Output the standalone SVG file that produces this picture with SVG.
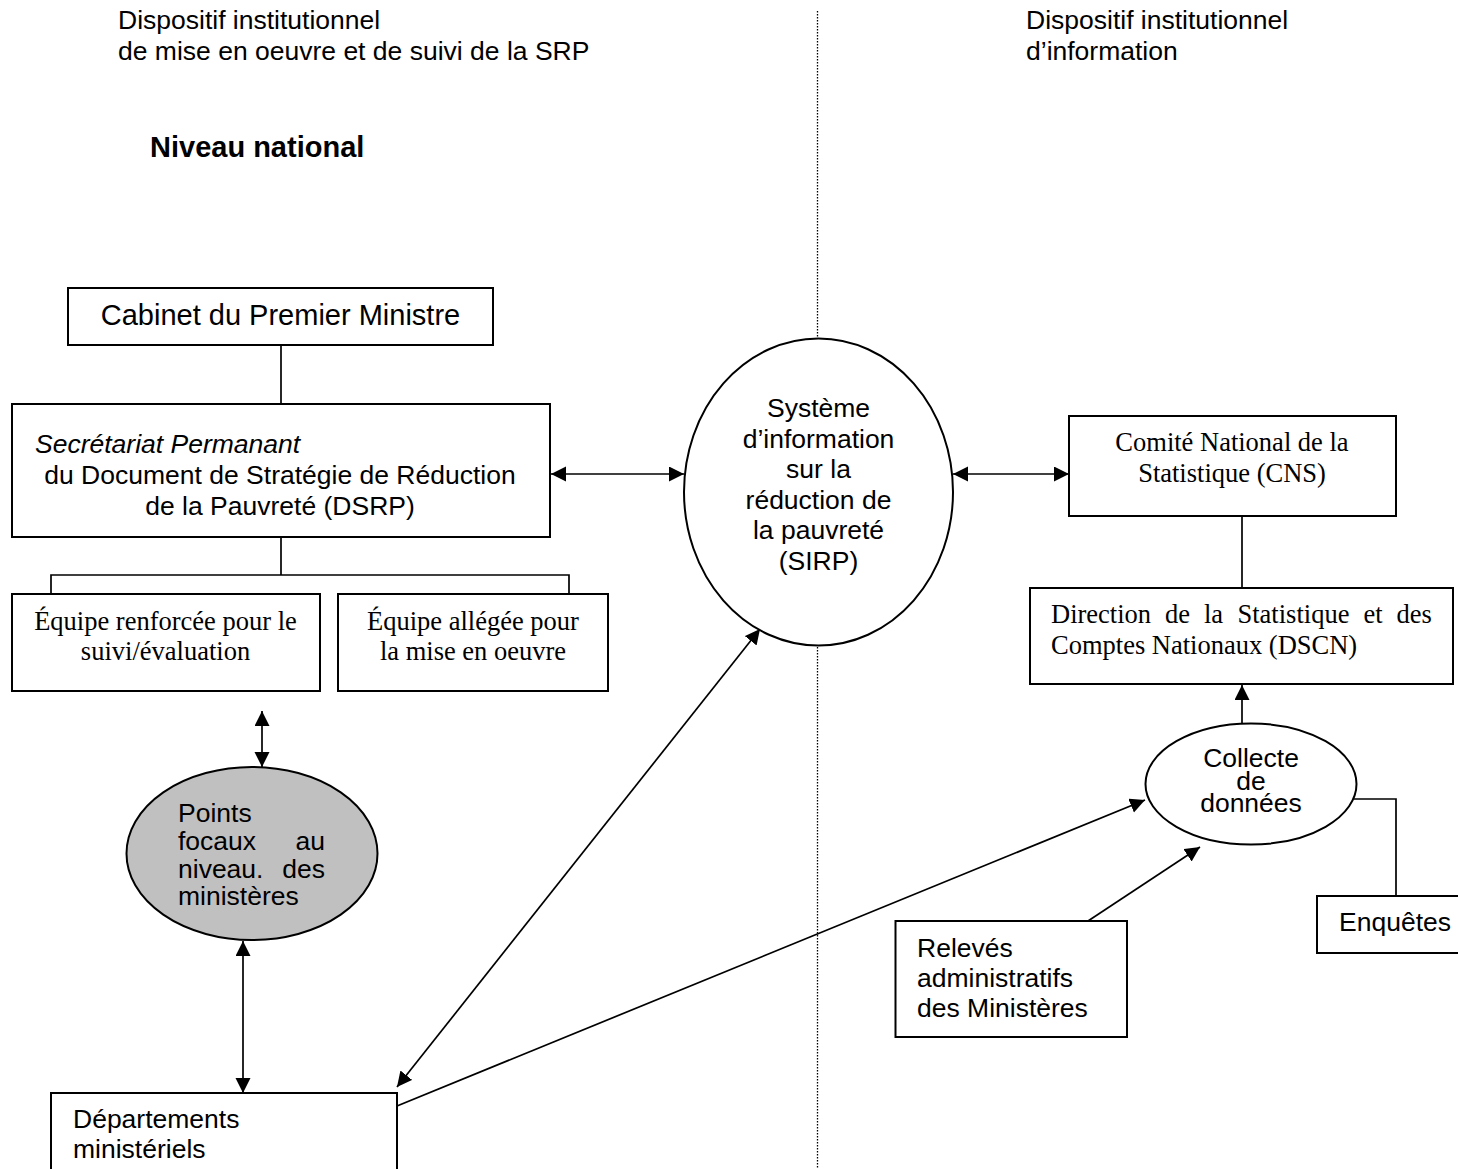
<svg xmlns="http://www.w3.org/2000/svg" width="1458" height="1169" viewBox="0 0 1458 1169">
<style>
.bg{fill:#fff}
.box{fill:#fff;stroke:#000;stroke-width:2}
.gray{fill:#c0c0c0;stroke:#000;stroke-width:2}
.ln{fill:none;stroke:#000;stroke-width:1.7}
.dot{fill:none;stroke:#000;stroke-width:1.3;stroke-dasharray:1.5 1.5}
.s{font-family:"Liberation Sans",Arial,sans-serif;font-size:26.5px;fill:#000}
.t{font-family:"Liberation Serif","Times New Roman",serif;font-size:26.5px;fill:#000}
.c{text-anchor:middle}
.e{text-anchor:end}
</style>
<defs>
<marker id="ah" markerUnits="userSpaceOnUse" markerWidth="16" markerHeight="16" refX="15" refY="7.5" orient="auto-start-reverse">
<path d="M0,0 L15,7.5 L0,15 z" fill="#000"/>
</marker>
</defs>
<rect class="bg" x="0" y="0" width="1458" height="1169"/>

<g id="headers">
<text class="s" x="118" y="29">Dispositif institutionnel</text>
<text class="s" x="118" y="59.5">de mise en oeuvre et de suivi de la SRP</text>
<text class="s" x="1026" y="29">Dispositif institutionnel</text>
<text class="s" x="1026" y="59.5">d’information</text>
<text class="s" x="150" y="157" style="font-weight:bold;font-size:29px">Niveau national</text>
</g>

<line class="dot" x1="817.5" y1="11" x2="817.5" y2="1169"/>

<g id="connectors">
<line class="ln" x1="281" y1="345" x2="281" y2="404"/>
<line class="ln" x1="281" y1="537" x2="281" y2="575"/>
<polyline class="ln" points="51,594 51,575 569,575 569,594"/>
<line class="ln" x1="551" y1="474" x2="684" y2="474" marker-start="url(#ah)" marker-end="url(#ah)"/>
<line class="ln" x1="953" y1="474" x2="1069" y2="474" marker-start="url(#ah)" marker-end="url(#ah)"/>
<line class="ln" x1="1242" y1="512" x2="1242" y2="588"/>
<line class="ln" x1="1242" y1="723.5" x2="1242" y2="685" marker-end="url(#ah)"/>
<line class="ln" x1="262" y1="711" x2="262" y2="767" marker-start="url(#ah)" marker-end="url(#ah)"/>
<line class="ln" x1="243" y1="941" x2="243" y2="1093" marker-start="url(#ah)" marker-end="url(#ah)"/>
<line class="ln" x1="760" y1="629" x2="397" y2="1087" marker-start="url(#ah)" marker-end="url(#ah)"/>
<line class="ln" x1="397" y1="1106" x2="1145" y2="800" marker-end="url(#ah)"/>
<line class="ln" x1="1088" y1="921" x2="1200" y2="847" marker-end="url(#ah)"/>
<polyline class="ln" points="1354,799 1396,799 1396,896"/>
</g>

<g id="cabinet">
<rect class="box" x="68" y="288" width="425" height="57"/>
<text class="s c" x="280.5" y="325" style="font-size:29px">Cabinet du Premier Ministre</text>
</g>

<g id="dsrp">
<rect class="box" x="12" y="404" width="538" height="133"/>
<text class="s" x="35" y="453" style="font-style:italic">Secrétariat Permanant</text>
<text class="s c" x="280" y="483.5">du Document de Stratégie de Réduction</text>
<text class="s c" x="280" y="515">de la Pauvreté (DSRP)</text>
</g>

<g id="equipe-renforcee">
<rect class="box" x="12" y="594" width="308" height="97"/>
<text class="t c" x="165.5" y="630">Équipe renforcée pour le</text>
<text class="t c" x="165.5" y="660">suivi/évaluation</text>
</g>

<g id="equipe-allegee">
<rect class="box" x="338" y="594" width="270" height="97"/>
<text class="t c" x="473" y="630">Équipe allégée pour</text>
<text class="t c" x="473" y="660">la mise en oeuvre</text>
</g>

<g id="sirp">
<ellipse class="box" cx="818.5" cy="492" rx="134.5" ry="153.5"/>
<text class="s c" x="818.5" y="417">Système</text>
<text class="s c" x="818.5" y="447.5">d’information</text>
<text class="s c" x="818.5" y="478">sur la</text>
<text class="s c" x="818.5" y="508.5">réduction de</text>
<text class="s c" x="818.5" y="539">la pauvreté</text>
<text class="s c" x="818.5" y="569.5">(SIRP)</text>
</g>

<g id="cns">
<rect class="box" x="1069" y="416" width="327" height="100"/>
<text class="t c" x="1232" y="451">Comité National de la</text>
<text class="t c" x="1232" y="482">Statistique (CNS)</text>
</g>

<g id="dscn">
<rect class="box" x="1030" y="588" width="423" height="96"/>
<text class="t" y="623"><tspan x="1051">Direction</tspan><tspan x="1165">de</tspan><tspan x="1204">la</tspan><tspan x="1237.5">Statistique</tspan><tspan x="1363.5">et</tspan><tspan x="1396.5">des</tspan></text>
<text class="t" x="1051" y="654">Comptes Nationaux (DSCN)</text>
</g>

<g id="points-focaux">
<ellipse class="gray" cx="252" cy="853.5" rx="125.5" ry="86.5"/>
<text class="s" x="178" y="822">Points</text>
<text class="s" x="178" y="850">focaux</text>
<text class="s e" x="325" y="850">au</text>
<text class="s" x="178" y="877.5">niveau.</text>
<text class="s e" x="325" y="877.5">des</text>
<text class="s" x="178" y="905">ministères</text>
</g>

<g id="departements">
<rect class="box" x="51" y="1093" width="346" height="110"/>
<text class="s" x="73" y="1128">Départements</text>
<text class="s" x="73" y="1158">ministériels</text>
</g>

<g id="collecte">
<ellipse class="box" cx="1251" cy="784" rx="105.5" ry="60.5"/>
<text class="s c" x="1251" y="767">Collecte</text>
<text class="s c" x="1251" y="789.5">de</text>
<text class="s c" x="1251" y="812">données</text>
</g>

<g id="releves">
<rect class="box" x="895.5" y="921" width="231.5" height="116"/>
<text class="s" x="917" y="957">Relevés</text>
<text class="s" x="917" y="987">administratifs</text>
<text class="s" x="917" y="1017">des Ministères</text>
</g>

<g id="enquetes">
<rect class="box" x="1317" y="896" width="170" height="57"/>
<text class="s" x="1339" y="931">Enquêtes</text>
</g>
</svg>
